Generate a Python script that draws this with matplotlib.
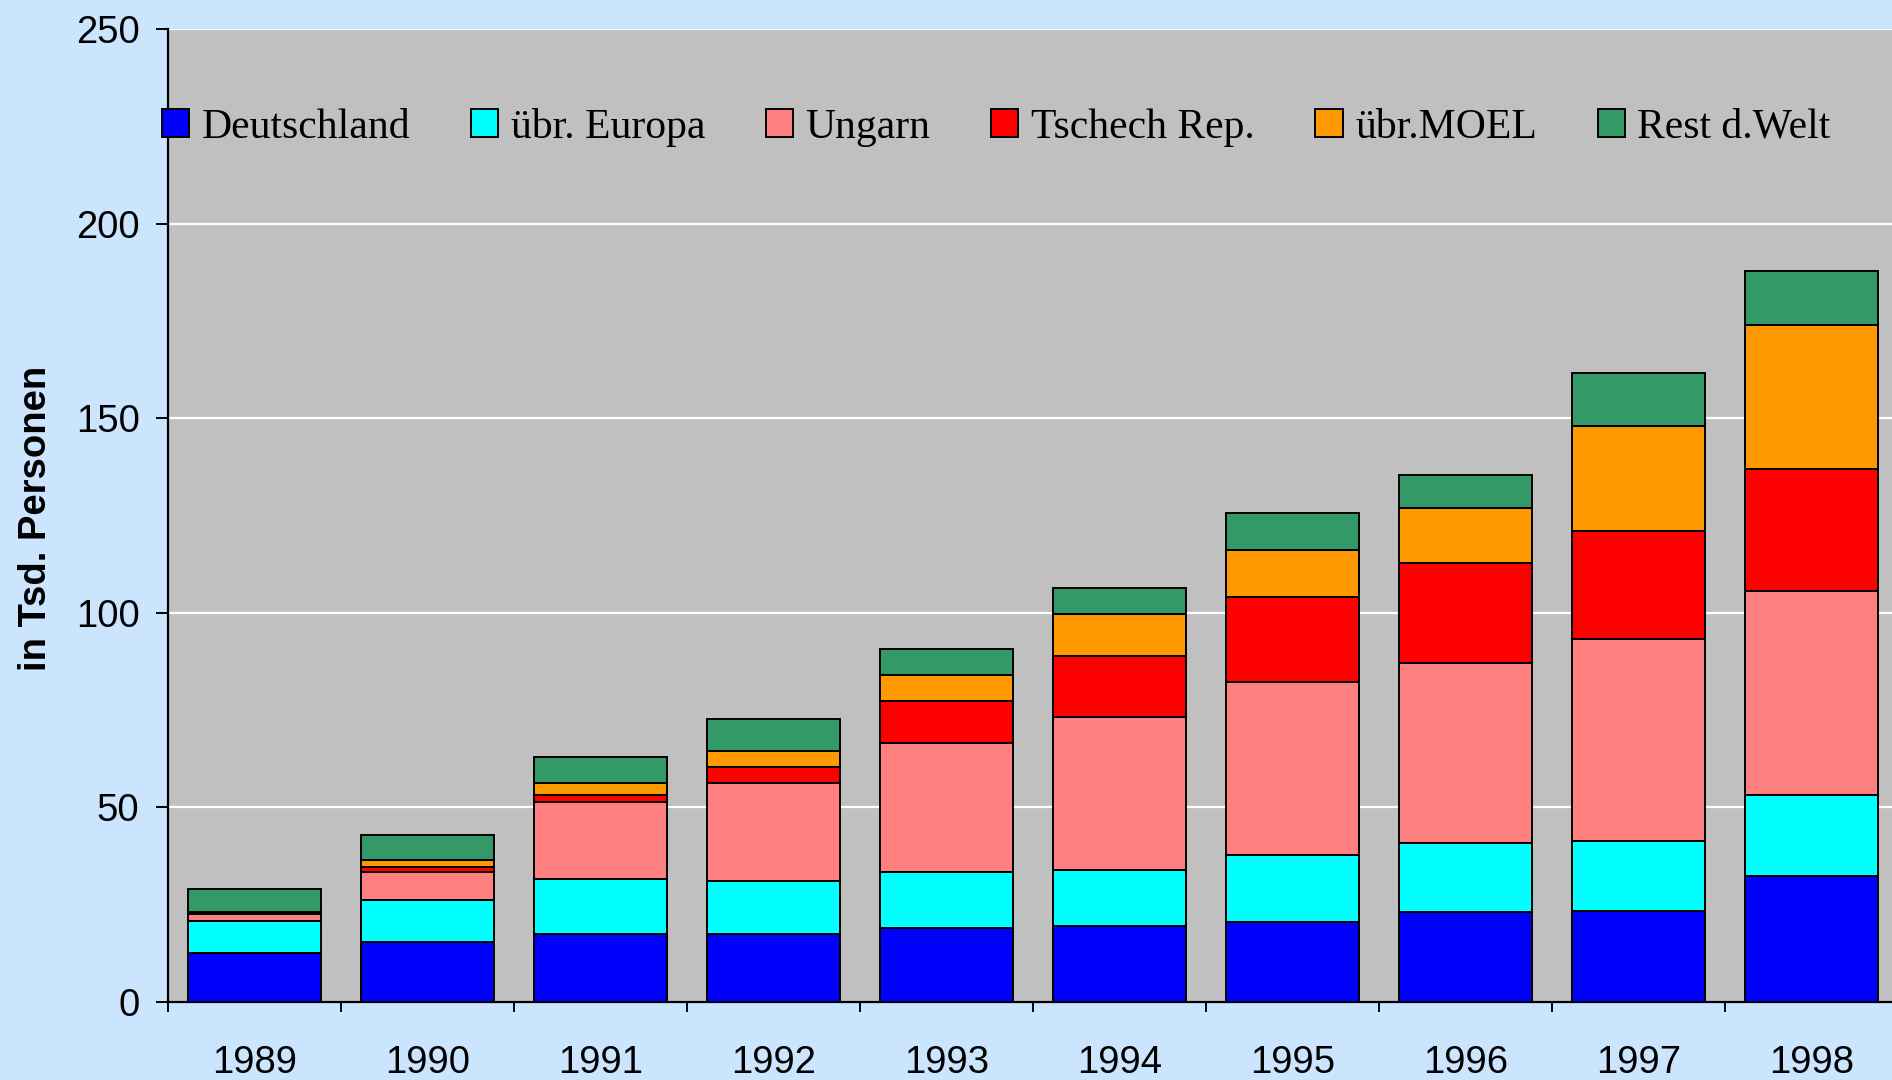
import matplotlib
matplotlib.use("Agg")
import matplotlib.pyplot as plt
from matplotlib.patches import Patch
import numpy as np

years = ["1989", "1990", "1991", "1992", "1993", "1994", "1995", "1996", "1997", "1998"]
series_names = ["Deutschland", "übr. Europa", "Ungarn", "Tschech Rep.", "übr.MOEL", "Rest d.Welt"]
deutschland = [12.5, 15.5, 17.6, 17.6, 19.1, 19.4, 20.5, 23.2, 23.4, 32.5]
ueb_europa = [8.2, 10.7, 13.9, 13.4, 14.4, 14.5, 17.2, 17.6, 18.0, 20.7]
ungarn = [1.9, 7.2, 20.0, 25.2, 33.0, 39.3, 44.4, 46.3, 51.8, 52.5]
tschech = [0.4, 1.2, 1.7, 4.1, 10.8, 15.6, 22.0, 25.8, 27.9, 31.3]
ueb_moel = [0.2, 1.9, 3.1, 4.1, 6.6, 10.9, 12.0, 14.1, 26.8, 36.9]
rest_welt = [5.8, 6.4, 6.6, 8.2, 6.8, 6.7, 9.5, 8.3, 13.7, 13.9]
colors = ["#0000FF", "#00FFFF", "#FF8080", "#FF0000", "#FF9900", "#339966"]

series = [deutschland, ueb_europa, ungarn, tschech, ueb_moel, rest_welt]

fig = plt.figure(figsize=(18.92, 10.80), dpi=100)
fig.patch.set_facecolor("#CCE5FF")
ax = fig.add_axes([168 / 1892, 78 / 1080, 1730 / 1892, 973 / 1080])
ax.set_facecolor("#C0C0C0")

x = np.arange(len(years))
bottom = np.zeros(len(years))
for vals, col, name in zip(series, colors, series_names):
    ax.bar(x, vals, width=0.77, bottom=bottom, color=col, edgecolor="black",
           linewidth=1.4, label=name, zorder=3)
    bottom += np.array(vals)

ax.set_xlim(-0.5, len(years) - 0.5)
ax.set_ylim(0, 250)
ax.set_yticks([0, 50, 100, 150, 200, 250])
ax.yaxis.grid(True, color="white", linewidth=1.6, zorder=0)
ax.set_axisbelow(True)

for s in ["top", "right"]:
    ax.spines[s].set_visible(False)
for s in ["left", "bottom"]:
    ax.spines[s].set_color("black")
    ax.spines[s].set_linewidth(1.6)

ax.set_xticks(x)
ax.set_xticklabels(years, fontsize=27.5, family="Liberation Sans")
ax.tick_params(axis="x", which="major", length=0, pad=31)
ax.set_xticks(np.arange(-0.5, len(years), 1.0), minor=True)
ax.tick_params(axis="x", which="minor", length=7.5, width=1.4, color="black", direction="out")

ax.tick_params(axis="y", which="major", length=8.5, width=1.4, pad=12, labelsize=27.5)
for lab in ax.get_yticklabels():
    lab.set_family("Liberation Sans")

ax.set_ylabel("in Tsd. Personen", fontsize=27.5, fontweight="bold", family="Liberation Sans",
              va="center")
ax.yaxis.set_label_coords(-0.0765, 0.497)

handles = [Patch(facecolor=c, edgecolor="black", linewidth=1.4) for c in colors]
leg = ax.legend(handles, series_names, loc="center left", bbox_to_anchor=(-0.0035, 0.899),
                ncol=6, frameon=False, borderaxespad=0, borderpad=0,
                handlelength=0.65, handleheight=0.65, handletextpad=0.3,
                columnspacing=1.46, prop={"family": "Liberation Serif", "size": 30})

fig.savefig("out.png", dpi=100, facecolor=fig.get_facecolor())
